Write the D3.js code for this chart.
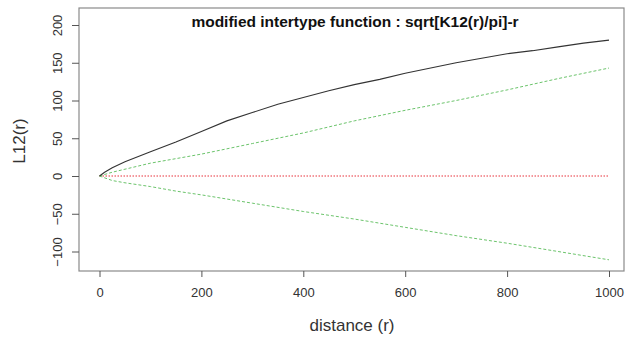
<!DOCTYPE html>
<html>
<head>
<meta charset="utf-8">
<script src="https://cdn.jsdelivr.net/npm/d3@7"></script>
<style>
  body { margin: 0; background: #fff; }
  text { font-family: "Liberation Sans", Arial, sans-serif; }
</style>
</head>
<body>
<svg id="chart" width="629" height="340"></svg>
<script>
// observed L12(r)
const rObs = [0, 10, 25, 50, 100, 150, 200, 250, 300, 350, 400, 450, 500, 550, 600, 650, 700, 750, 800, 850, 900, 950, 1000];
const lObs = [0, 5, 11, 19, 32, 45, 59, 73, 84, 95, 104, 113, 121, 128, 136, 143, 150, 156, 162, 166, 171, 176, 180];

// simulation envelopes
const rEnv = [0, 25, 50, 100, 150, 200, 300, 400, 500, 600, 700, 800, 900, 1000];
const upperEnv = [0, 5, 9, 17, 23, 29, 43, 57, 73, 87, 100, 114, 129, 143];
const lowerEnv = [0, -6, -9, -14, -20, -25, -36, -47, -57, -68, -79, -89, -100, -111];

// theoretical value
const rTheo = [0, 1000];
const lTheo = [0, 0];

const xTicks = [0, 200, 400, 600, 800, 1000];
const yTicks = [-100, -50, 0, 50, 100, 150, 200];

const svg = d3.select("#chart");
const box = { left: 79, right: 624, top: 8, bottom: 271 };

const x = d3.scaleLinear().domain([0, 1000]).range([99.5, 609]);
const y = d3.scaleLinear().domain([0, 200]).range([176, 25]);

// plot frame
svg.append("rect")
  .attr("x", box.left).attr("y", box.top)
  .attr("width", box.right - box.left).attr("height", box.bottom - box.top)
  .attr("fill", "none").attr("stroke", "#8a8a8a").attr("stroke-width", 1.2);

// -------------------------------------------------
// Axes
// -------------------------------------------------
const xAxisG = svg.append("g")
  .attr("transform", `translate(0, ${box.bottom})`)
  .call(d3.axisBottom(x).tickValues(xTicks).tickSize(6).tickPadding(11).tickFormat(d3.format("d")));
xAxisG.select(".domain").remove();
xAxisG.selectAll("line").attr("stroke", "#555");
xAxisG.selectAll("text").attr("font-size", 13).attr("fill", "#333");

const yAxisG = svg.append("g")
  .attr("transform", `translate(${box.left}, 0)`)
  .call(d3.axisLeft(y).tickValues(yTicks).tickSize(7).tickFormat(d3.format("d")));
yAxisG.select(".domain").remove();
yAxisG.selectAll("line").attr("stroke", "#555");
yAxisG.selectAll("text")
  .attr("font-size", 13).attr("fill", "#333")
  .attr("x", 0).attr("y", 0).attr("dy", null)
  .attr("text-anchor", "middle")
  .attr("transform", "translate(-17, 0) rotate(-90)");

// -------------------------------------------------
// Lines
// -------------------------------------------------
const line = d3.line().x((d) => x(d[0])).y((d) => y(d[1]));

svg.append("path")
  .datum(rTheo.map((r, i) => [r, lTheo[i]]))
  .attr("fill", "none").attr("stroke", "#e8303a").attr("stroke-width", 1)
  .attr("stroke-dasharray", "1.5,1.5")
  .attr("d", line);

[upperEnv, lowerEnv].forEach((vals) => {
  svg.append("path")
    .datum(rEnv.map((r, i) => [r, vals[i]]))
    .attr("fill", "none").attr("stroke", "#6cc46c").attr("stroke-width", 1)
    .attr("stroke-dasharray", "3,2")
    .attr("d", line);
});

svg.append("path")
  .datum(rObs.map((r, i) => [r, lObs[i]]))
  .attr("fill", "none").attr("stroke", "#333").attr("stroke-width", 1.1)
  .attr("d", line);

// -------------------------------------------------
// Labels
// -------------------------------------------------
svg.append("text")
  .attr("x", 355).attr("y", 27)
  .attr("text-anchor", "middle")
  .attr("font-size", 15.5).attr("font-weight", "bold").attr("fill", "#111")
  .text("modified intertype function : sqrt[K12(r)/pi]-r");

svg.append("text")
  .attr("x", 352).attr("y", 331)
  .attr("text-anchor", "middle")
  .attr("font-size", 17).attr("fill", "#333")
  .text("distance (r)");

svg.append("text")
  .attr("transform", "translate(25, 141) rotate(-90)")
  .attr("text-anchor", "middle")
  .attr("font-size", 17).attr("fill", "#333")
  .text("L12(r)");
</script>
</body>
</html>
